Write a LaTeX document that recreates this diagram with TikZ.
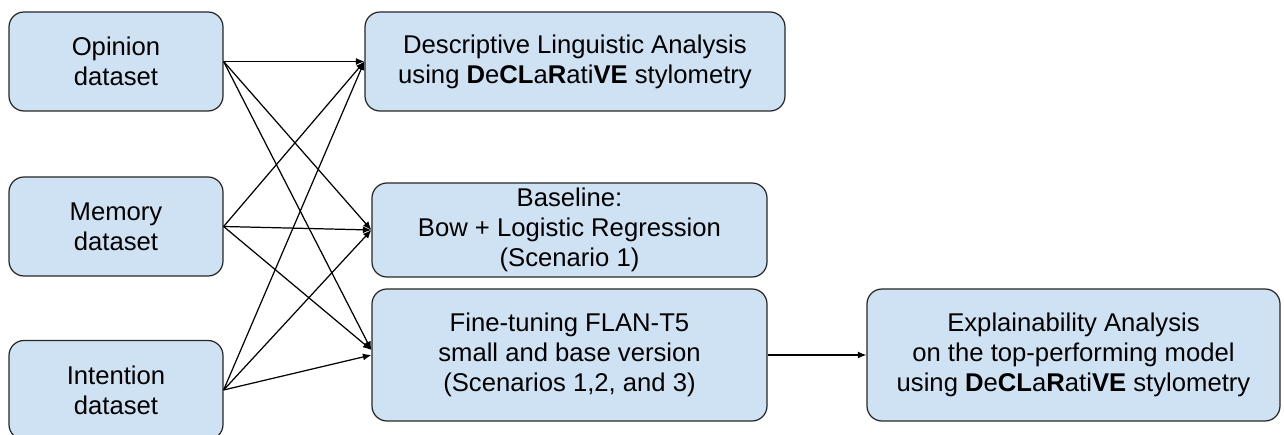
\documentclass[tikz,border=0pt]{standalone}
\usepackage{fontspec}
\setmainfont{Liberation Sans}
\usepackage{tikz}
\usetikzlibrary{positioning}
\usetikzlibrary{arrows.meta}
\definecolor{boxblue}{HTML}{CFE2F3}
\newcommand{\declr}{\textbf{D}e\textbf{CL}a\textbf{R}ati\textbf{VE}}
\tikzset{
  stagebox/.style={draw=black!85,fill=boxblue,rounded corners=0.3cm,line width=0.7pt,align=center,inner sep=2pt,font=\fontsize{14.6}{17}\selectfont},
  flow/.style={-{Latex[length=1.7mm,width=1.4mm]},line width=0.7pt}
}

\begin{document}
\begin{tikzpicture}
\useasboundingbox (0,0) rectangle (25.68,-8.7);
\node[stagebox,minimum width=4.28cm,minimum height=1.98cm] (op) at (2.32,-1.23) {Opinion\\dataset};
\node[stagebox,minimum width=4.28cm,minimum height=1.98cm] (mem) at (2.32,-4.53) {Memory\\dataset};
\node[stagebox,minimum width=4.28cm,minimum height=1.98cm] (int) at (2.32,-7.8) {Intention\\dataset};
\node[stagebox,minimum width=8.4cm,minimum height=1.98cm] (desc) at (11.5,-1.23)
{Descriptive Linguistic Analysis\\using \declr{} stylometry};
\node[stagebox,minimum width=7.9cm,minimum height=1.88cm] (base) at (11.39,-4.6)
{Baseline:\\Bow + Logistic Regression\\(Scenario 1)};
\node[stagebox,minimum width=7.9cm,minimum height=2.64cm] (fine) at (11.39,-7.1)
{Fine-tuning FLAN-T5\\small and base version\\(Scenarios 1,2, and 3)};
\node[stagebox,minimum width=8.26cm,minimum height=2.64cm] (expl) at (21.47,-7.1)
{Explainability Analysis\\on the top-performing model\\using \declr{} stylometry};
\draw[flow] (op.east) -- (desc.west);
\draw[flow] (op.east) -- (base.west);
\draw[flow] (op.east) -- ([yshift=0.1cm]fine.west);
\draw[flow] (mem.east) -- (desc.west);
\draw[flow] (mem.east) -- (base.west);
\draw[flow] (mem.east) -- ([yshift=0.1cm]fine.west);
\draw[flow] (int.east) -- (desc.west);
\draw[flow] (int.east) -- (base.west);
\draw[flow] (int.east) -- (fine.west);
\draw[flow] (fine.east) -- (expl.west);
\end{tikzpicture}
\end{document}
